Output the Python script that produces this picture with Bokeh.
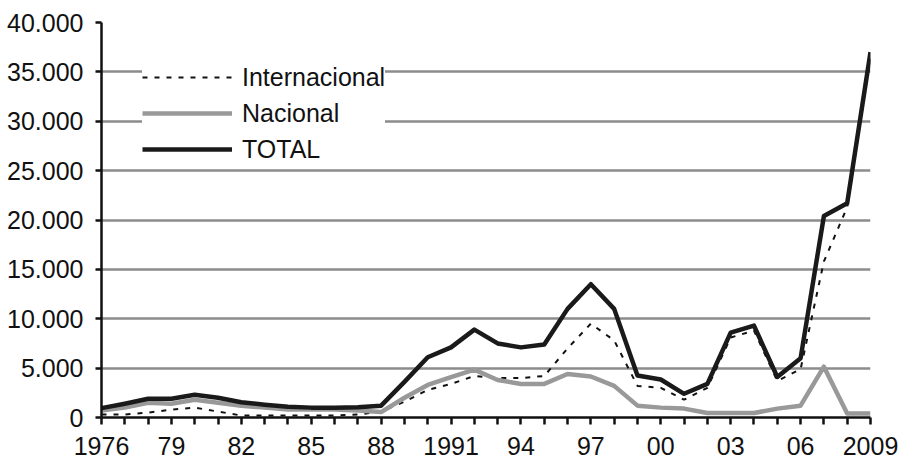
from bokeh.plotting import figure
from bokeh.models import Range1d, FixedTicker, Legend, LegendItem
from bokeh.embed import file_html
from bokeh.resources import INLINE

years = list(range(1976, 2010))
internacional = [300, 300, 500, 800, 1000, 600, 200, 200, 200, 200, 200, 300,
                 600, 1600, 2800, 3400, 4200, 4000, 4000, 4200, 7000, 9500,
                 7800, 3200, 3000, 1800, 3000, 8100, 8800, 3700, 4900, 15800,
                 21300, 36600]
nacional = [700, 1000, 1500, 1400, 1800, 1500, 1200, 1000, 800, 800, 800, 700,
            550, 2000, 3300, 4100, 4850, 3800, 3400, 3400, 4400, 4150, 3200,
            1200, 1000, 900, 450, 450, 450, 900, 1200, 5150, 400, 400]
total = [950, 1400, 1900, 1900, 2300, 2000, 1550, 1300, 1100, 1000, 1000, 1050,
         1200, 3600, 6100, 7100, 8900, 7500, 7100, 7400, 11000, 13500, 11000,
         4250, 3850, 2400, 3400, 8600, 9300, 4100, 6000, 20400, 21700, 37000]

x_labels = {1976: "1976", 1979: "79", 1982: "82", 1985: "85", 1988: "88",
            1991: "1991", 1994: "94", 1997: "97", 2000: "00", 2003: "03",
            2006: "06", 2009: "2009"}
y_ticks = [0, 5000, 10000, 15000, 20000, 25000, 30000, 35000, 40000]

FONT = "Liberation Sans"
FS = "25px"

p = figure(width=900, height=464, output_backend="svg", toolbar_location=None,
           x_range=Range1d(1976, 2009), y_range=Range1d(0, 40000),
           min_border_left=101, min_border_right=30, min_border_top=22,
           min_border_bottom=47)
p.outline_line_color = None
p.background_fill_color = "white"
p.border_fill_color = "white"

# grid
p.xgrid.grid_line_color = None
p.ygrid.ticker = FixedTicker(ticks=y_ticks)
p.ygrid.grid_line_color = "#8c8c8c"
p.ygrid.grid_line_width = 2.5

# y axis
p.yaxis.ticker = FixedTicker(ticks=y_ticks)
p.yaxis.major_label_overrides = {v: f"{v:,}".replace(",", ".") for v in y_ticks}
p.yaxis.axis_line_color = "#111111"
p.yaxis.axis_line_width = 2.5
p.yaxis.major_tick_line_color = "#111111"
p.yaxis.major_tick_line_width = 2.5
p.yaxis.major_tick_out = 6
p.yaxis.major_tick_in = 0
p.yaxis.minor_tick_line_color = None
p.yaxis.major_label_standoff = 12
p.yaxis.major_label_text_font = FONT
p.yaxis.major_label_text_font_size = FS
p.yaxis.major_label_text_color = "#111111"

# x axis
p.xaxis.ticker = FixedTicker(ticks=years)
p.xaxis.major_label_overrides = {y: x_labels.get(y, "") for y in years}
p.xaxis.axis_line_color = "#111111"
p.xaxis.axis_line_width = 2.5
p.xaxis.major_tick_line_color = "#111111"
p.xaxis.major_tick_line_width = 2.5
p.xaxis.major_tick_out = 7
p.xaxis.major_tick_in = 0
p.xaxis.minor_tick_line_color = None
p.xaxis.major_label_standoff = 12
p.xaxis.major_label_text_font = FONT
p.xaxis.major_label_text_font_size = FS
p.xaxis.major_label_text_color = "#111111"

r_int = p.line(years, internacional, line_color="#111111", line_width=2,
               line_dash="5 7")
r_nac = p.line(years, nacional, line_color="#999999", line_width=4.5,
               line_join="round")
r_tot = p.line(years, total, line_color="#1a1a1a", line_width=4.5,
               line_join="round")

legend = Legend(items=[LegendItem(label="Internacional", renderers=[r_int]),
                       LegendItem(label="Nacional", renderers=[r_nac]),
                       LegendItem(label="TOTAL", renderers=[r_tot])],
                location=(41, 251), orientation="vertical",
                glyph_width=90, glyph_height=34, label_height=34,
                label_standoff=10, spacing=2, padding=2, margin=0,
                border_line_color=None, background_fill_color="white",
                background_fill_alpha=1.0,
                label_text_font=FONT, label_text_font_size=FS,
                label_text_color="#111111")
p.add_layout(legend, "center")

open("out.html", "w").write(file_html(p, INLINE))
